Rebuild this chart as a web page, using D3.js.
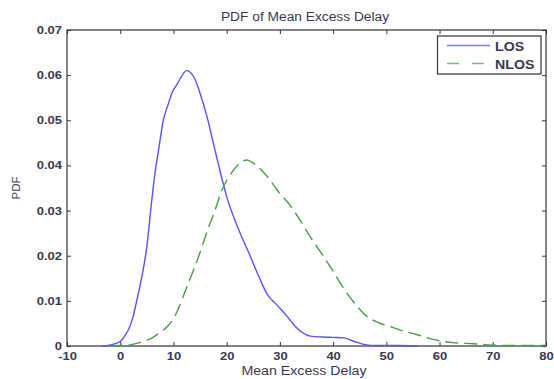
<!DOCTYPE html>
<html>
<head>
<meta charset="utf-8">
<style>
  body { margin: 0; background: #fff; }
  text { font-family: Arial, "Liberation Sans", sans-serif; fill: #3b3650; }
  .tick text { font-size: 11px; font-weight: bold; fill: #3b3650; }
</style>
</head>
<body>
<svg id="chart" width="554" height="379"></svg>
<script src="https://d3js.org/d3.v7.min.js"></script>
<script>
  // values
  const xTicks = [-10, 0, 10, 20, 30, 40, 50, 60, 70, 80]
  const yTicks = [0, 0.01, 0.02, 0.03, 0.04, 0.05, 0.06, 0.07]

  const losX = [-3.5, -2, 0, 1, 1.5, 2.3, 3.1, 4, 5, 5.9, 6.5, 7.2, 8.1, 9, 9.7, 10.7, 12.5, 14, 15, 16.3, 17.8, 18.5, 20, 22, 24.4, 26, 27.6, 29.5, 31.4, 33, 34.2, 35.7, 38, 40, 42, 44, 46, 48, 52, 56]
  const losY = [0, 0.0002, 0.001, 0.0025, 0.0035, 0.006, 0.01, 0.015, 0.022, 0.032, 0.038, 0.0434, 0.05, 0.0535, 0.056, 0.058, 0.061, 0.0592, 0.056, 0.0508, 0.0434, 0.04, 0.0331, 0.0265, 0.02, 0.0155, 0.0115, 0.009, 0.0065, 0.0042, 0.003, 0.0022, 0.002, 0.0019, 0.0018, 0.001, 0.0003, 0.0001, 0.0001, 0]

  const nlosX = [-2, 0, 2, 4.3, 6, 7.5, 9, 10, 11, 12.5, 14, 15, 16.5, 17.5, 19.1, 21, 22.5, 23.8, 25, 26.5, 28, 29.5, 31.9, 34, 35.7, 38.9, 42.6, 44.5, 46.4, 48.5, 50.7, 53, 55.8, 58, 60.8, 63, 66.4, 70, 75, 80]
  const nlosY = [0, 0.0001, 0.0003, 0.001, 0.0018, 0.003, 0.0045, 0.006, 0.0085, 0.013, 0.0175, 0.0207, 0.026, 0.029, 0.0345, 0.0385, 0.0405, 0.0412, 0.0405, 0.039, 0.037, 0.0345, 0.0312, 0.0275, 0.0242, 0.0186, 0.0117, 0.0088, 0.0065, 0.0052, 0.0043, 0.0034, 0.0025, 0.0017, 0.001, 0.0007, 0.0005, 0.0002, 0.0001, 0.0001]

  const series = [
    { name: 'LOS', xs: losX, ys: losY, color: '#5353f7', dash: null },
    { name: 'NLOS', xs: nlosX, ys: nlosY, color: '#45a045', dash: '13,6' }
  ]

  const svg = d3.select('#chart')
  const mLeft = 67, mRight = 546, mTop = 30, mBottom = 346

  const x = d3.scaleLinear().domain([-10, 80]).range([mLeft, mRight])
  const y = d3.scaleLinear().domain([0, 0.07]).range([mBottom, mTop])

  // the source picture is a bit wider than tall, so text is stretched sideways
  function stretch(sel, k) {
    sel.each(function() {
      const w = this.getComputedTextLength()
      d3.select(this).attr('textLength', w * k).attr('lengthAdjust', 'spacingAndGlyphs')
    })
  }

  const fmtY = d => d === 0 ? '0' : d3.format('.2f')(d)

  // axes, ticks pointing inward
  const gx = svg.append('g')
    .attr('transform', `translate(0,${mBottom})`)
    .call(d3.axisBottom(x).tickValues(xTicks).tickSize(-4).tickPadding(6.5).tickFormat(d => String(d)))
  svg.append('g')
    .attr('transform', `translate(0,${mTop})`)
    .call(d3.axisTop(x).tickValues(xTicks).tickSize(-4).tickFormat(''))
  const gy = svg.append('g')
    .attr('transform', `translate(${mLeft},0)`)
    .call(d3.axisLeft(y).tickValues(yTicks).tickSize(-4).tickPadding(5).tickFormat(fmtY))
  svg.append('g')
    .attr('transform', `translate(${mRight},0)`)
    .call(d3.axisRight(y).tickValues(yTicks).tickSize(-4).tickFormat(''))

  svg.selectAll('.domain').remove()
  svg.selectAll('.tick line').attr('stroke', '#333')
  stretch(gx.selectAll('text'), 1.18)
  stretch(gy.selectAll('text'), 1.18)

  svg.append('rect')
    .attr('x', mLeft).attr('y', mTop)
    .attr('width', mRight - mLeft).attr('height', mBottom - mTop)
    .attr('fill', 'none').attr('stroke', '#333').attr('stroke-width', 1.2)

  // curves
  const line = d3.line()
    .x(d => x(d[0]))
    .y(d => y(d[1]))
    .curve(d3.curveMonotoneX)

  series.forEach(s => {
    svg.append('path')
      .datum(s.xs.map((v, i) => [v, s.ys[i]]))
      .attr('d', line)
      .attr('fill', 'none')
      .attr('stroke', s.color)
      .attr('stroke-width', 1.4)
      .attr('stroke-dasharray', s.dash)
  })

  // legend
  const lg = svg.append('g')
  lg.append('rect')
    .attr('x', 437.5).attr('y', 36).attr('width', 103.5).attr('height', 38)
    .attr('fill', '#fff').attr('stroke', '#333').attr('stroke-width', 1.2)

  series.forEach((s, i) => {
    const ly = 45.5 + i * 18
    lg.append('line')
      .attr('x1', 447).attr('x2', 490).attr('y1', ly).attr('y2', ly)
      .attr('stroke', s.color).attr('stroke-width', 1.5).attr('stroke-opacity', 0.75)
      .attr('stroke-dasharray', s.dash ? '12,13' : null)
    lg.append('text')
      .attr('x', 495).attr('y', ly + 5)
      .style('font-size', '12px')
      .style('font-weight', 'bold')
      .text(s.name)
      .call(stretch, 1.18)
  })

  // titles
  svg.append('text')
    .attr('x', 305).attr('y', 20.5)
    .attr('text-anchor', 'middle')
    .style('font-size', '12.5px')
    .text('PDF of Mean Excess Delay')
    .call(stretch, 1.1)

  svg.append('text')
    .attr('x', 304).attr('y', 375)
    .attr('text-anchor', 'middle')
    .style('font-size', '12px')
    .text('Mean Excess Delay')
    .call(stretch, 1.18)

  svg.append('text')
    .attr('transform', `translate(20,188) rotate(-90)`)
    .attr('text-anchor', 'middle')
    .style('font-size', '11.5px')
    .text('PDF')
</script>
</body>
</html>
